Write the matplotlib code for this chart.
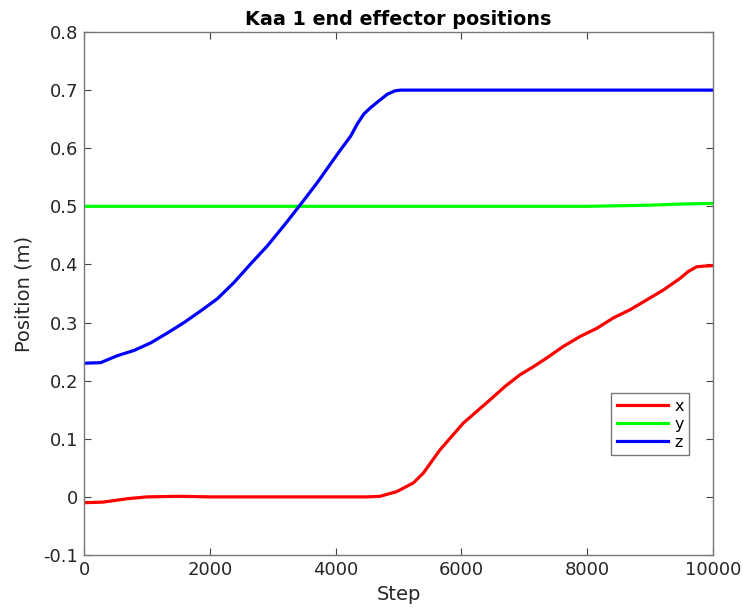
import matplotlib.pyplot as plt

# values
steps_z = [0, 265, 530, 795, 1060, 1325, 1590, 1855, 2120, 2385, 2650, 2915,
           3180, 3420, 3710, 4030, 4240, 4346, 4450, 4558, 4660, 4823, 4950,
           5035, 6000, 7000, 8000, 9000, 10000]
pos_z = [0.230, 0.231, 0.243, 0.252, 0.265, 0.282, 0.300, 0.320, 0.341,
         0.369, 0.401, 0.432, 0.467, 0.500, 0.541, 0.590, 0.621, 0.642,
         0.659, 0.670, 0.679, 0.693, 0.699, 0.700, 0.700, 0.700, 0.700,
         0.700, 0.700]

steps_x = [0, 300, 700, 1000, 1500, 2000, 3000, 4000, 4500, 4706, 4970,
           5236, 5395, 5527, 5660, 5845, 6030, 6243, 6455, 6693, 6930, 7144,
           7356, 7621, 7886, 8151, 8416, 8681, 8946, 9211, 9476, 9608, 9740,
           9847, 10000]
pos_x = [-0.010, -0.009, -0.003, 0.000, 0.001, 0.000, 0.000, 0.000, 0.000,
         0.001, 0.009, 0.024, 0.041, 0.061, 0.081, 0.104, 0.127, 0.147,
         0.167, 0.190, 0.210, 0.224, 0.239, 0.259, 0.276, 0.290, 0.308,
         0.322, 0.339, 0.356, 0.376, 0.388, 0.396, 0.397, 0.398]

steps_y = [0, 2000, 4000, 6000, 8000, 8500, 9000, 9500, 10000]
pos_y = [0.500, 0.500, 0.500, 0.500, 0.500, 0.501, 0.502, 0.504, 0.505]

plt.rcParams['font.family'] = 'DejaVu Sans'
fig = plt.figure(figsize=(7.43, 6.13), dpi=100)
ax = fig.add_axes([84 / 743, 58 / 613, 629 / 743, 523 / 613])

ax.plot(steps_x, pos_x, color=(1, 0, 0), lw=2.3, label='x')
ax.plot(steps_y, pos_y, color=(0, 1, 0), lw=2.3, label='y')
ax.plot(steps_z, pos_z, color=(0, 0, 1), lw=2.3, label='z')

ax.set_xlim(0, 10000)
ax.set_ylim(-0.1, 0.8)
ax.set_xticks([0, 2000, 4000, 6000, 8000, 10000])
ax.set_yticks([-0.1, 0, 0.1, 0.2, 0.3, 0.4, 0.5, 0.6, 0.7, 0.8])
ax.set_yticklabels(['-0.1', '0', '0.1', '0.2', '0.3', '0.4', '0.5', '0.6', '0.7', '0.8'])
ax.tick_params(direction='in', top=True, right=True, length=5, width=0.8,
               labelsize=13, colors='#444444', labelcolor='#262626', pad=4)
for s in ax.spines.values():
    s.set_color('#777777')
    s.set_linewidth(1.0)

ax.set_title('Kaa 1 end effector positions', fontsize=13.8, fontweight='bold', pad=5)
ax.set_xlabel('Step', fontsize=14, color='#262626', labelpad=5)
ax.set_ylabel('Position (m)', fontsize=14, color='#262626', labelpad=7)

leg = ax.legend(loc='lower right', bbox_to_anchor=(0.975, 0.175), fontsize=11.5,
                handlelength=3.2, fancybox=False, framealpha=1,
                borderpad=0.35, labelspacing=0.2, handletextpad=0.4)
leg.get_frame().set_edgecolor('#777777')
leg.get_frame().set_linewidth(1.0)

fig.savefig('out.png', dpi=100)
